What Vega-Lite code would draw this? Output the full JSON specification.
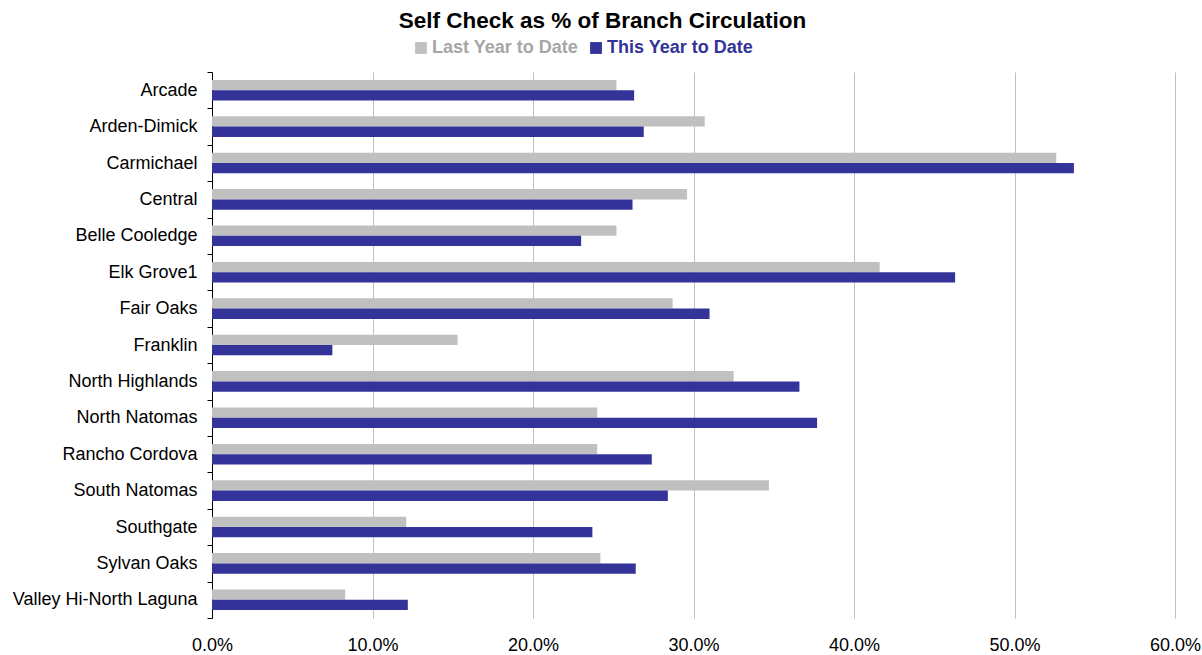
{
  "$schema": "https://vega.github.io/schema/vega-lite/v6.json",
  "width": 963,
  "height": 546,
  "autosize": {"type": "none"},
  "padding": {"left": 212, "top": 72, "right": 27, "bottom": 37},
  "background": "white",
  "config": {
    "view": {"stroke": null},
    "font": "Liberation Sans"
  },
  "title": {
    "text": "Self Check as % of Branch Circulation",
    "font": "Liberation Sans",
    "fontSize": 22.5,
    "fontWeight": "bold",
    "color": "black",
    "anchor": "middle",
    "frame": "group",
    "dx": -91,
    "offset": 7
  },
  "data": {
    "values": [
      {"branch": "Arcade", "series": "Last Year to Date", "value": 0.252},
      {"branch": "Arcade", "series": "This Year to Date", "value": 0.263},
      {"branch": "Arden-Dimick", "series": "Last Year to Date", "value": 0.307},
      {"branch": "Arden-Dimick", "series": "This Year to Date", "value": 0.269},
      {"branch": "Carmichael", "series": "Last Year to Date", "value": 0.526},
      {"branch": "Carmichael", "series": "This Year to Date", "value": 0.537},
      {"branch": "Central", "series": "Last Year to Date", "value": 0.296},
      {"branch": "Central", "series": "This Year to Date", "value": 0.262},
      {"branch": "Belle Cooledge", "series": "Last Year to Date", "value": 0.252},
      {"branch": "Belle Cooledge", "series": "This Year to Date", "value": 0.230},
      {"branch": "Elk Grove1", "series": "Last Year to Date", "value": 0.416},
      {"branch": "Elk Grove1", "series": "This Year to Date", "value": 0.463},
      {"branch": "Fair Oaks", "series": "Last Year to Date", "value": 0.287},
      {"branch": "Fair Oaks", "series": "This Year to Date", "value": 0.310},
      {"branch": "Franklin", "series": "Last Year to Date", "value": 0.153},
      {"branch": "Franklin", "series": "This Year to Date", "value": 0.075},
      {"branch": "North Highlands", "series": "Last Year to Date", "value": 0.325},
      {"branch": "North Highlands", "series": "This Year to Date", "value": 0.366},
      {"branch": "North Natomas", "series": "Last Year to Date", "value": 0.240},
      {"branch": "North Natomas", "series": "This Year to Date", "value": 0.377},
      {"branch": "Rancho Cordova", "series": "Last Year to Date", "value": 0.240},
      {"branch": "Rancho Cordova", "series": "This Year to Date", "value": 0.274},
      {"branch": "South Natomas", "series": "Last Year to Date", "value": 0.347},
      {"branch": "South Natomas", "series": "This Year to Date", "value": 0.284},
      {"branch": "Southgate", "series": "Last Year to Date", "value": 0.121},
      {"branch": "Southgate", "series": "This Year to Date", "value": 0.237},
      {"branch": "Sylvan Oaks", "series": "Last Year to Date", "value": 0.242},
      {"branch": "Sylvan Oaks", "series": "This Year to Date", "value": 0.264},
      {"branch": "Valley Hi-North Laguna", "series": "Last Year to Date", "value": 0.083},
      {"branch": "Valley Hi-North Laguna", "series": "This Year to Date", "value": 0.122}
    ]
  },
  "mark": {"type": "bar"},
  "encoding": {
    "y": {
      "field": "branch",
      "type": "nominal",
      "sort": null,
      "scale": {"paddingInner": 0, "paddingOuter": 0},
      "axis": {
        "title": null,
        "domainColor": "black",
        "domainWidth": 1,
        "tickColor": "black",
        "tickSize": 5,
        "tickBand": "extent",
        "labelFontSize": 18,
        "labelColor": "black",
        "labelFont": "Liberation Sans",
        "labelPadding": 10,
        "labelLimit": 400
      }
    },
    "yOffset": {
      "field": "series",
      "type": "nominal",
      "sort": ["Last Year to Date", "This Year to Date"],
      "scale": {"paddingInner": 0, "paddingOuter": 0.77}
    },
    "x": {
      "field": "value",
      "type": "quantitative",
      "scale": {"domain": [0, 0.6], "nice": false},
      "axis": {
        "title": null,
        "format": ".1%",
        "values": [0, 0.1, 0.2, 0.3, 0.4, 0.5, 0.6],
        "domain": false,
        "ticks": false,
        "grid": true,
        "gridColor": "#c0c0c0",
        "gridWidth": 1,
        "labelFlush": false,
        "labelFontSize": 18,
        "labelColor": "black",
        "labelFont": "Liberation Sans",
        "labelPadding": 18
      }
    },
    "color": {
      "field": "series",
      "type": "nominal",
      "scale": {"domain": ["Last Year to Date", "This Year to Date"], "range": ["#c0c0c0", "#333399"]},
      "legend": {
        "title": null,
        "orient": "none",
        "legendX": 200,
        "legendY": -33,
        "direction": "horizontal",
        "symbolType": "square",
        "symbolSize": 140,
        "symbolOpacity": 1,
        "symbolStrokeWidth": 0,
        "labelFontSize": 18,
        "labelFontWeight": "bold",
        "labelFont": "Liberation Sans",
        "labelOffset": 2,
        "columnPadding": 8,
        "encode": {
          "labels": {
            "update": {
              "fill": {"signal": "datum.value === 'Last Year to Date' ? '#a6a6a6' : '#333399'"}
            }
          }
        }
      }
    }
  }
}
